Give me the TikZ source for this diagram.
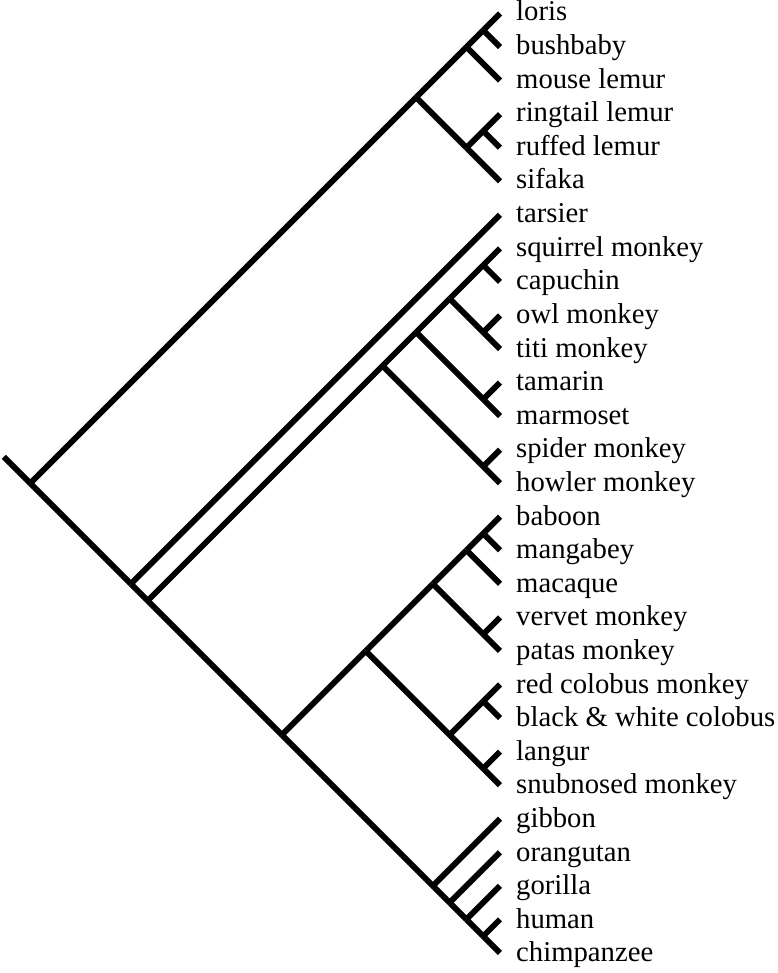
\documentclass[tikz,border=0pt]{standalone}
\usepackage{fontspec}
\setmainfont{Liberation Serif}
\begin{document}
\begin{tikzpicture}[x=1pt,y=-1pt,
  br/.style={line width=5.8pt, line cap=butt, black},
  lab/.style={anchor=base west, inner sep=0pt, font=\fontsize{28.7}{30}\selectfont}]
\useasboundingbox (0,0) rectangle (777,973);
\def\dy{33.55}
\def\ty{13.5}
\def\mkin#1#2#3{\coordinate (#1) at ({500-\dy*(#3-#2)/2}, {\ty+\dy*(#2+#3)/2});}
\foreach \i/\t in {0/loris, 1/bushbaby, 2/mouse lemur, 3/ringtail lemur, 4/ruffed lemur, 5/sifaka,
  6/tarsier, 7/squirrel monkey, 8/capuchin, 9/owl monkey, 10/titi monkey, 11/tamarin, 12/marmoset,
  13/spider monkey, 14/howler monkey, 15/baboon, 16/mangabey, 17/macaque, 18/vervet monkey,
  19/patas monkey, 20/red colobus monkey, 21/black \& white colobus, 22/langur, 23/snubnosed monkey,
  24/gibbon, 25/orangutan, 26/gorilla, 27/human, 28/chimpanzee} {
  \coordinate (l\i) at (500, {\ty+\dy*\i});
  \node[lab] (t\i) at (516, {21+33.6*\i}) {\t};
}
\mkin{a01}{0}{1}
\mkin{a02}{0}{2}
\mkin{a34}{3}{4}
\mkin{a35}{3}{5}
\mkin{a05}{0}{5}
\mkin{root}{0}{28}
\coordinate (stem) at ({500-14*\dy-26.5}, {\ty+14*\dy-26.5});
\mkin{hap}{6}{28}
\mkin{anth}{7}{28}
\mkin{nw}{7}{14}
\mkin{a78}{7}{8}
\mkin{a910}{9}{10}
\mkin{a710}{7}{10}
\mkin{a1112}{11}{12}
\mkin{a712}{7}{12}
\mkin{a1314}{13}{14}
\mkin{cat}{15}{28}
\mkin{owm}{15}{23}
\mkin{a1516}{15}{16}
\mkin{a1517}{15}{17}
\mkin{a1819}{18}{19}
\mkin{a1519}{15}{19}
\mkin{a2021}{20}{21}
\mkin{a2223}{22}{23}
\mkin{a2023}{20}{23}
\mkin{a2428}{24}{28}
\mkin{a2528}{25}{28}
\mkin{a2628}{26}{28}
\mkin{a2728}{27}{28}
\foreach \a/\b in {l0/a01, l1/a01, a01/a02, l2/a02, l3/a34, l4/a34, a34/a35, l5/a35,
  a02/a05, a35/a05, a05/root, stem/root, l6/hap, hap/root, anth/hap, nw/anth, cat/anth,
  l7/a78, l8/a78, l9/a910, l10/a910, a78/a710, a910/a710, l11/a1112, l12/a1112,
  a710/a712, a1112/a712, l13/a1314, l14/a1314, a712/nw, a1314/nw,
  l15/a1516, l16/a1516, a1516/a1517, l17/a1517, l18/a1819, l19/a1819, a1517/a1519,
  a1819/a1519, l20/a2021, l21/a2021, l22/a2223, l23/a2223, a2021/a2023, a2223/a2023,
  a1519/owm, a2023/owm, owm/cat,
  l27/a2728, l28/a2728, l26/a2628, a2728/a2628, l25/a2528, a2628/a2528, l24/a2428,
  a2528/a2428, a2428/cat} {
  \draw[br] (\a) -- (\b);
}
\end{tikzpicture}
\end{document}
